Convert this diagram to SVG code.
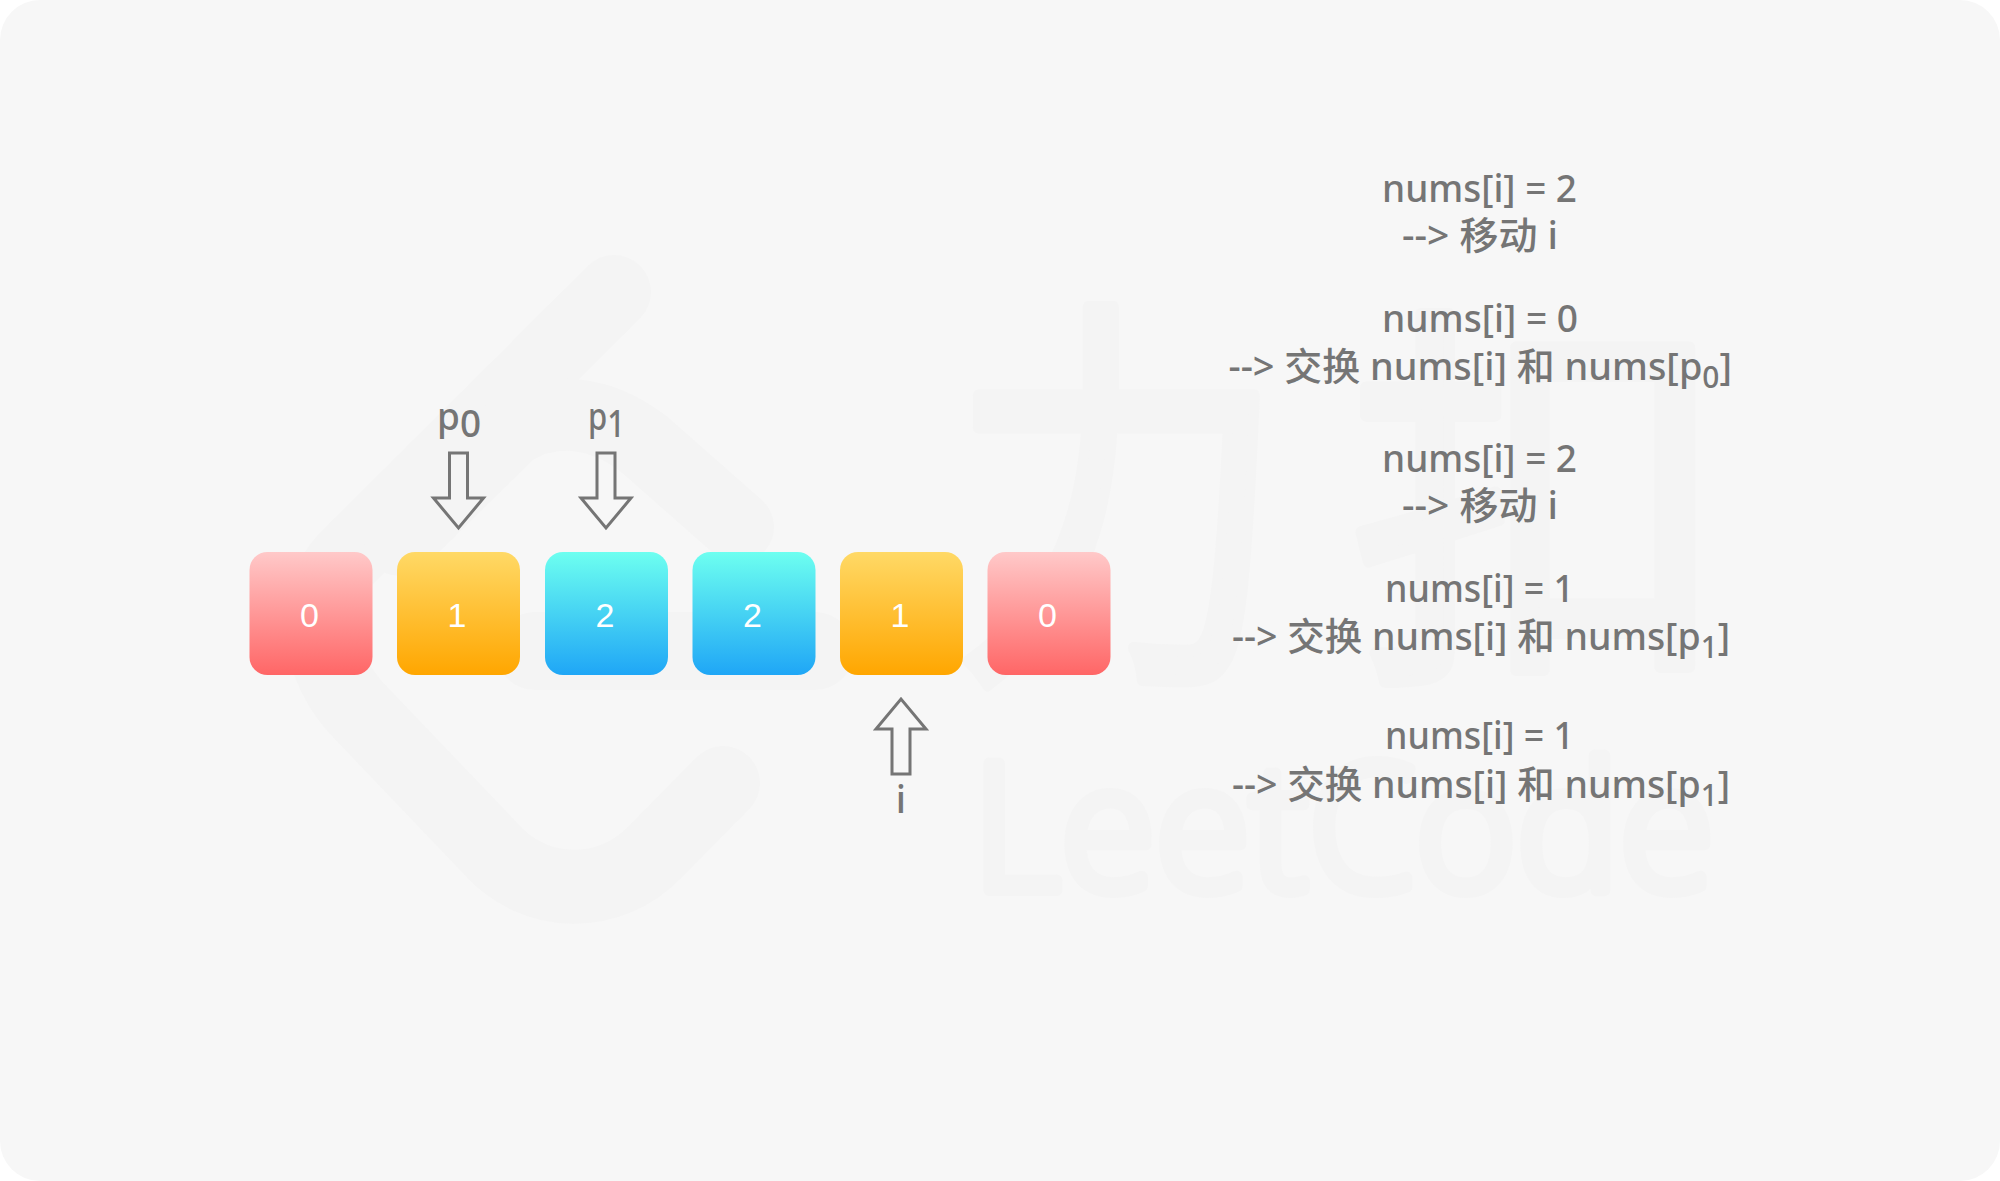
<svg xmlns="http://www.w3.org/2000/svg" width="2000" height="1181" viewBox="0 0 2000 1181">
<defs>
<linearGradient id="gRed" x1="0" y1="0" x2="0" y2="1"><stop offset="0" stop-color="#ffc9c9"/><stop offset="1" stop-color="#ff6666"/></linearGradient>
<linearGradient id="gOrange" x1="0" y1="0" x2="0" y2="1"><stop offset="0" stop-color="#ffd966"/><stop offset="1" stop-color="#ffa600"/></linearGradient>
<linearGradient id="gBlue" x1="0" y1="0" x2="0" y2="1"><stop offset="0" stop-color="#6dfff0"/><stop offset="1" stop-color="#1fa6f6"/></linearGradient>
<path id="arrowDown" d="M-9,0 H9 V45 H25 L0,75 L-25,45 H-9 Z"/>
</defs>
<style>
.wm{fill:none;stroke:#f4f4f4;stroke-linecap:round;stroke-linejoin:round}
.wt{fill:#f4f4f4;stroke:#f4f4f4;stroke-linejoin:round;font-family:"Noto Sans CJK SC","Noto Sans",sans-serif}
.wl{fill:#f4f4f4;stroke:#f4f4f4;stroke-linejoin:round;stroke-linecap:round;font-family:"Noto Sans",sans-serif;font-weight:300}
.box{stroke:none}
.num{fill:#fff;font-family:"Liberation Sans",Arial,sans-serif;font-size:34px;text-anchor:middle}
.ptr{fill:none;stroke:#757575;stroke-width:3}
.t{fill:#757575;font-family:"Noto Sans","Noto Sans CJK SC",sans-serif;font-size:38px;font-weight:500}
.lb{fill:#757575;font-family:"Noto Sans",sans-serif;font-size:38px;font-weight:500}
.s{font-size:30px}
</style>
<rect id="background" x="0" y="0" width="2000" height="1181" fill="#ffffff"/>
<rect x="0" y="0" width="2000" height="1181" rx="40" ry="40" fill="#f7f7f7"/>
<g id="watermark">
<path class="wm" stroke-width="74" d="M614,292 L345,560 C310,598 315,668 362,714 L490,848 C535,899 610,899 655,852 L723,783"/>
<path class="wm" stroke-width="72" d="M400,540 L510,432 C550,405 600,410 645,445 L738,527"/>
<path class="wm" stroke-width="78" d="M535,651 H815"/>
<text class="wt" stroke-width="12" font-size="400" transform="translate(950,651) scale(.84,1.026)">力</text>
<text class="wt" stroke-width="12" font-size="400" transform="translate(1349,650) scale(.95,1)">扣</text>
<text class="wl" stroke-width="12" font-size="176" x="972" y="890" textLength="742" lengthAdjust="spacingAndGlyphs">LeetCode</text>
</g>
<g id="node-0"><rect class="box" x="249.5" y="552" width="123" height="123" rx="18" fill="url(#gRed)"/><text class="num" x="309.5" y="626.5">0</text></g>
<g id="node-1"><rect class="box" x="397" y="552" width="123" height="123" rx="18" fill="url(#gOrange)"/><text class="num" x="457" y="626.5">1</text></g>
<g id="node-2"><rect class="box" x="545" y="552" width="123" height="123" rx="18" fill="url(#gBlue)"/><text class="num" x="605" y="626.5">2</text></g>
<g id="node-3"><rect class="box" x="692.5" y="552" width="123" height="123" rx="18" fill="url(#gBlue)"/><text class="num" x="752.5" y="626.5">2</text></g>
<g id="node-4"><rect class="box" x="840" y="552" width="123" height="123" rx="18" fill="url(#gOrange)"/><text class="num" x="900" y="626.5">1</text></g>
<g id="node-5"><rect class="box" x="987.5" y="552" width="123" height="123" rx="18" fill="url(#gRed)"/><text class="num" x="1047.5" y="626.5">0</text></g>
<g id="connectors">
<use class="ptr" href="#arrowDown" transform="translate(458.5,453)"/>
<use class="ptr" href="#arrowDown" transform="translate(606,453)"/>
<use class="ptr" href="#arrowDown" transform="translate(901,774) scale(1,-1)"/>
</g>
<g id="label-p0"><text class="lb" x="437" y="430" textLength="44" lengthAdjust="spacingAndGlyphs">p<tspan dy="7">0</tspan></text></g>
<g id="label-p1"><text class="lb" x="588" y="430" textLength="37" lengthAdjust="spacingAndGlyphs">p<tspan dy="7">1</tspan></text></g>
<g id="label-i"><text class="lb" x="901" y="813" text-anchor="middle">i</text></g>
<g id="step-1">
<text class="t" x="1382" y="202" textLength="195" lengthAdjust="spacingAndGlyphs">nums[i] = 2</text>
<text class="t" x="1402" y="249" textLength="156" lengthAdjust="spacingAndGlyphs">--&gt; 移动 i</text>
</g>
<g id="step-2">
<text class="t" x="1382" y="332" textLength="196" lengthAdjust="spacingAndGlyphs">nums[i] = 0</text>
<text class="t" x="1228.5" y="380" textLength="503.5" lengthAdjust="spacingAndGlyphs">--&gt; 交换 nums[i] 和 nums[p<tspan class="s" dy="8">0</tspan><tspan dy="-8">]</tspan></text>
</g>
<g id="step-3">
<text class="t" x="1382" y="472" textLength="195" lengthAdjust="spacingAndGlyphs">nums[i] = 2</text>
<text class="t" x="1402" y="519" textLength="156" lengthAdjust="spacingAndGlyphs">--&gt; 移动 i</text>
</g>
<g id="step-4">
<text class="t" x="1385" y="602" textLength="189" lengthAdjust="spacingAndGlyphs">nums[i] = 1</text>
<text class="t" x="1232" y="650" textLength="498" lengthAdjust="spacingAndGlyphs">--&gt; 交换 nums[i] 和 nums[p<tspan class="s" dy="8">1</tspan><tspan dy="-8">]</tspan></text>
</g>
<g id="step-5">
<text class="t" x="1385" y="749" textLength="189" lengthAdjust="spacingAndGlyphs">nums[i] = 1</text>
<text class="t" x="1232" y="798" textLength="498" lengthAdjust="spacingAndGlyphs">--&gt; 交换 nums[i] 和 nums[p<tspan class="s" dy="8">1</tspan><tspan dy="-8">]</tspan></text>
</g>
</svg>
